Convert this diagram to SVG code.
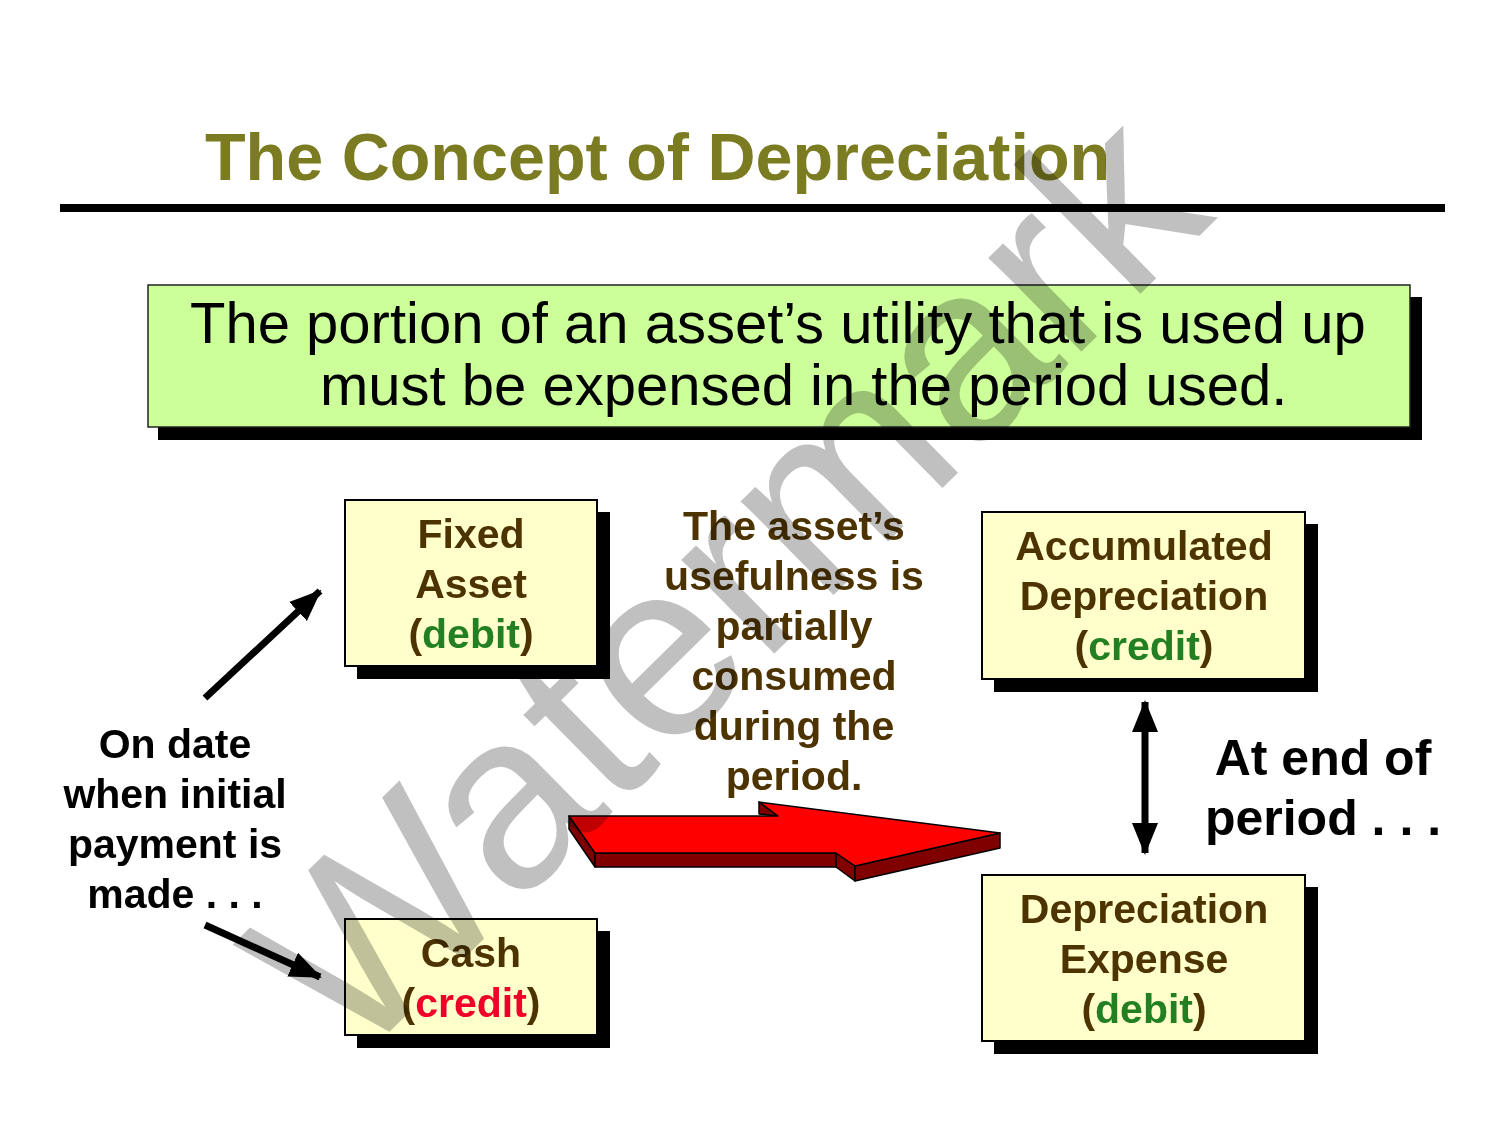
<svg xmlns="http://www.w3.org/2000/svg" width="1500" height="1125" viewBox="0 0 1500 1125">
<defs>
<style>
.t{font-family:"Liberation Sans",Arial,sans-serif;font-weight:bold;}
.box{fill:#FFFFCC;stroke:#000;stroke-width:2;}
.sh{fill:#000;}
.br{fill:#4D3300;font-size:41px;text-anchor:middle;}
.g{fill:#238022;}
.rd{fill:#F00028;}
.blk{fill:#000;text-anchor:middle;}
.ln{stroke:#000;stroke-width:7;fill:none;}
</style>
<marker id="ah" markerUnits="userSpaceOnUse" markerWidth="32" markerHeight="32" viewBox="0 0 32 32" refX="30" refY="16" orient="auto-start-reverse">
<path d="M0,3 L32,16 L0,29 Z" fill="#000"/>
</marker>
</defs>
<rect width="1500" height="1125" fill="#fff"/>
<g id="title">
<text class="t" x="205" y="180" font-size="66.5" fill="#7B7B21">The Concept of Depreciation</text>
<rect x="60" y="204" width="1385" height="8" fill="#000"/>
</g>
<g id="definition">
<rect class="sh" x="158" y="297" width="1264" height="143"/>
<rect x="148" y="285" width="1262" height="142" fill="#CCFF99" stroke="#222" stroke-width="1.5"/>
<text x="190" y="343" font-family="Liberation Sans,Arial,sans-serif" font-size="58" fill="#000">The portion of an asset’s utility that is used up</text>
<text x="320" y="405" font-family="Liberation Sans,Arial,sans-serif" font-size="58" fill="#000">must be expensed in the period used.</text>
</g>
<g id="fixed-asset">
<rect class="sh" x="357" y="512" width="253" height="167"/>
<rect class="box" x="345" y="500" width="252" height="166"/>
<text class="t br" x="471" y="548">Fixed</text>
<text class="t br" x="471" y="598">Asset</text>
<text class="t br" x="471" y="648">(<tspan class="g">debit</tspan>)</text>
</g>
<g id="cash">
<rect class="sh" x="357" y="931" width="253" height="117"/>
<rect class="box" x="345" y="919" width="252" height="116"/>
<text class="t br" x="471" y="967">Cash</text>
<text class="t br" x="471" y="1017">(<tspan class="rd">credit</tspan>)</text>
</g>
<g id="accum-dep">
<rect class="sh" x="994" y="524" width="324" height="168"/>
<rect class="box" x="982" y="512" width="323" height="167"/>
<text class="t br" x="1144" y="560">Accumulated</text>
<text class="t br" x="1144" y="610">Depreciation</text>
<text class="t br" x="1144" y="660">(<tspan class="g">credit</tspan>)</text>
</g>
<g id="dep-expense">
<rect class="sh" x="994" y="887" width="324" height="167"/>
<rect class="box" x="982" y="875" width="323" height="166"/>
<text class="t br" x="1144" y="923">Depreciation</text>
<text class="t br" x="1144" y="973">Expense</text>
<text class="t br" x="1144" y="1023">(<tspan class="g">debit</tspan>)</text>
</g>
<g id="usefulness-text">
<text class="t br" x="794" y="540">The asset’s</text>
<text class="t br" x="794" y="590">usefulness is</text>
<text class="t br" x="794" y="640">partially</text>
<text class="t br" x="794" y="690">consumed</text>
<text class="t br" x="794" y="740">during the</text>
<text class="t br" x="794" y="790">period.</text>
</g>
<g id="on-date-text">
<text class="t blk" x="175" y="758" font-size="41">On date</text>
<text class="t blk" x="175" y="808" font-size="41">when initial</text>
<text class="t blk" x="175" y="858" font-size="41">payment is</text>
<text class="t blk" x="175" y="908" font-size="41">made . . .</text>
</g>
<g id="end-text">
<text class="t blk" x="1323" y="775" font-size="50">At end of</text>
<text class="t blk" x="1323" y="835" font-size="50">period . . .</text>
</g>
<g id="connectors">
<line class="ln" x1="205" y1="698" x2="320" y2="591" marker-end="url(#ah)"/>
<line class="ln" x1="205" y1="925" x2="320" y2="977" marker-end="url(#ah)"/>
<line class="ln" x1="1145" y1="702" x2="1145" y2="853" marker-start="url(#ah)" marker-end="url(#ah)"/>
<g id="red-arrow" stroke="#000" stroke-width="1.5" stroke-linejoin="round">
<polygon points="569,816 595,853 595,867 569,829" fill="#800000"/>
<polygon points="595,853 836,853 836,867 595,867" fill="#800000"/>
<polygon points="836,853 855,866 855,881 836,867" fill="#800000"/>
<polygon points="855,866 1000,833 1000,848 855,881" fill="#800000"/>
<polygon points="759,802 759,814 778,816" fill="#800000"/>
<polygon points="569,816 778,816 759,802 1000,833 855,866 836,853 595,853" fill="#FF0000"/>
</g>
</g>
<text x="785" y="643" transform="rotate(-44.5 785 643)" text-anchor="middle" font-family="Liberation Sans,Arial,sans-serif" font-size="250" fill="#C0C0C0" style="mix-blend-mode:multiply">Watermark</text>
</svg>
